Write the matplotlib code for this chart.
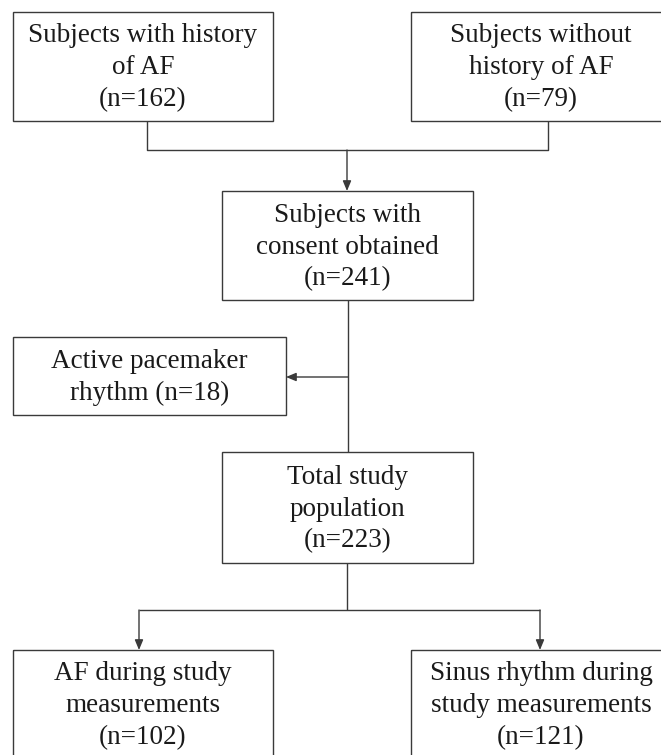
import matplotlib
matplotlib.use("Agg")
import matplotlib.pyplot as plt
from matplotlib.patches import Rectangle

# box texts and counts
labels = [
    "Subjects with history\nof AF\n(n={})",
    "Subjects without\nhistory of AF\n(n={})",
    "Subjects with\nconsent obtained\n(n={})",
    "Active pacemaker\nrhythm (n={})",
    "Total study\npopulation\n(n={})",
    "AF during study\nmeasurements\n(n={})",
    "Sinus rhythm during\nstudy measurements\n(n={})",
]
counts = [162, 79, 241, 18, 223, 102, 121]

# layout in pixels (x0, y0, x1, y1), y grows downward
boxes = [
    (13, 12, 273, 121),
    (411, 12, 671, 121),
    (222, 191, 473, 300),
    (13, 337, 286, 415),
    (222, 452, 473, 563),
    (13, 650, 273, 758),
    (411, 650, 671, 758),
]

W, H = 661, 755
line_col = "#3a3a3a"
text_col = "#1a1a1a"

fig = plt.figure(figsize=(W / 100, H / 100), dpi=100)
ax = fig.add_axes([0, 0, 1, 1])
ax.set_xlim(0, W)
ax.set_ylim(H, 0)
ax.axis("off")

for lab, n, (x0, y0, x1, y1) in zip(labels, counts, boxes):
    ax.add_patch(Rectangle((x0, y0), x1 - x0, y1 - y0, fill=False,
                           edgecolor=line_col, lw=1.0))
    lines = lab.format(n).split("\n")
    cx, cy = (x0 + x1) / 2, (y0 + y1) / 2
    for i, ln in enumerate(lines):
        yb = cy + (i - (len(lines) - 1) / 2) * 32 + 8
        ax.text(cx, yb, ln, ha="center", va="baseline", fontsize=19.5,
                family="Liberation Serif", color=text_col)


def seg(xs, ys):
    ax.plot(xs, ys, color=line_col, lw=1.0, solid_capstyle="butt")


def arrow(x0, y0, x1, y1):
    ax.annotate("", xy=(x1, y1), xytext=(x0, y0),
                arrowprops=dict(arrowstyle="-|>,head_length=0.6,head_width=0.25",
                                color=line_col, lw=1.0, shrinkA=0, shrinkB=0,
                                mutation_scale=10))


# top merge
seg([147, 147, 548, 548], [121, 150, 150, 121])
arrow(347, 150, 347, 191)

# consent -> total, with exclusion branch
seg([348, 348], [300, 452])
arrow(348, 377, 286, 377)

# split to the two groups
seg([347, 347], [563, 610])
seg([139, 540], [610, 610])
arrow(139, 610, 139, 650)
arrow(540, 610, 540, 650)

fig.savefig("out.png", dpi=100, facecolor="white")
